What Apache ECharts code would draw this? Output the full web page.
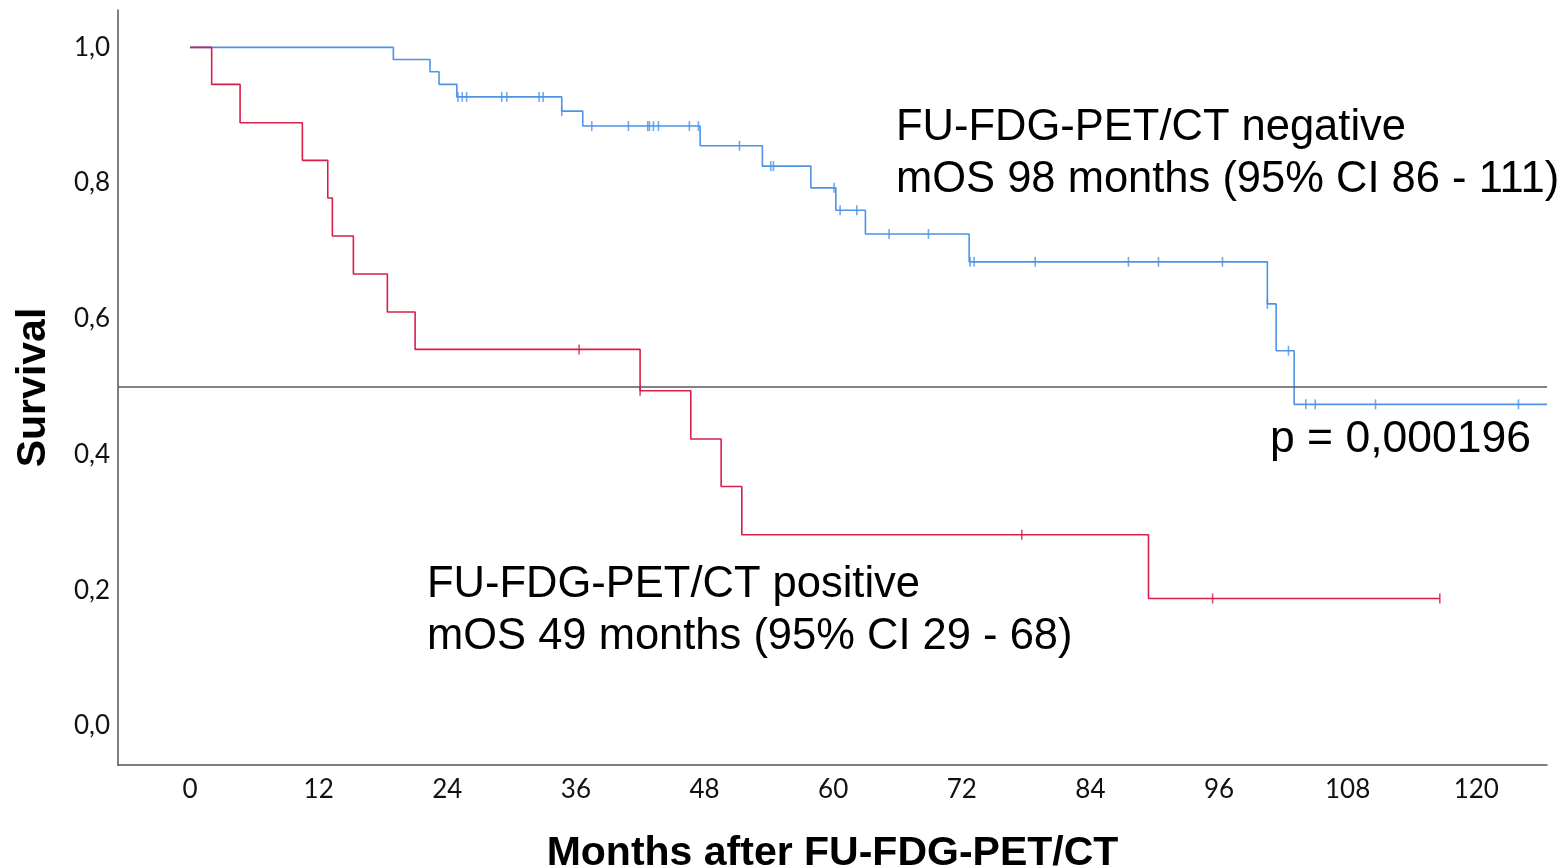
<!DOCTYPE html>
<html>
<head>
<meta charset="utf-8">
<script src="https://cdn.jsdelivr.net/npm/echarts@6/dist/echarts.min.js"></script>
<style>html,body{margin:0;padding:0;background:#fff}#c{width:1567px;height:867px}</style>
</head>
<body>
<div id="c"></div>
<script>
// ---- data ----
const xTicks = [0, 12, 24, 36, 48, 60, 72, 84, 96, 108, 120];
const yTicks = [0, 0.2, 0.4, 0.6, 0.8, 1.0];

// FU-FDG-PET/CT negative (blue): step times and survival after each step
const negTimes = [0, 18.97, 22.39, 23.23, 24.89, 34.68, 36.64, 47.59, 53.40, 57.92, 60.25, 63.01, 72.69, 100.51, 101.33, 103.01, 126.6];
const negSurv  = [1, 0.982, 0.964, 0.9455, 0.927, 0.906, 0.884, 0.855, 0.825, 0.793, 0.760, 0.725, 0.684, 0.622, 0.553, 0.474, 0.474];
const negCensor = [25.0, 25.4, 25.8, 29.08, 29.55, 32.57, 32.94, 34.68, 37.48, 40.9, 42.7, 42.86, 43.23, 43.7, 46.59, 47.43, 51.26, 54.18, 54.43, 60.09, 60.65, 62.21, 65.22, 68.89, 72.78, 73.15, 78.85, 87.55, 90.35, 96.32, 100.51, 102.48, 104.1, 104.98, 110.6, 123.94];

// FU-FDG-PET/CT positive (red)
const posTimes = [0, 2.02, 4.67, 10.48, 12.85, 13.28, 15.24, 18.41, 21.0, 41.99, 46.72, 49.55, 51.48, 89.42, 116.6];
const posSurv  = [1, 0.9455, 0.889, 0.8335, 0.778, 0.722, 0.666, 0.610, 0.555, 0.494, 0.423, 0.353, 0.282, 0.188, 0.188];
const posCensor = [36.3, 41.99, 77.6, 95.4, 116.6];

const medianLine = 0.5;

// ---- helpers ----
function pairs(t, s) { return t.map((v, i) => [v, s[i]]); }
function survAt(t, times, surv) {
  let v = surv[0];
  for (let i = 0; i < times.length; i++) { if (times[i] <= t + 1e-9) v = surv[i]; }
  return v;
}
function censorPts(c, times, surv) { return c.map(t => [t, survAt(t, times, surv)]); }

const BLUE = '#4f93e6';
const RED = '#d81e4a';

const chart = echarts.init(document.getElementById('c'), null, {renderer: 'canvas'});
const annFont = '"Liberation Sans", Arial, sans-serif';
const tickFont = 'Lato, "Open Sans", sans-serif';
chart.setOption({
  animation: false,
  backgroundColor: '#fff',
  grid: {left: 118, right: 20, top: 10, bottom: 102, containLabel: false, outerBoundsMode: 'none'},
  xAxis: {
    type: 'value', min: -6.72, max: 126.6,
    splitLine: {show: false},
    axisTick: {show: false},
    axisLine: {show: true, onZero: false, lineStyle: {color: '#555', width: 1.5}},
    axisLabel: {
      customValues: xTicks, margin: 12,
      fontFamily: tickFont, fontSize: 26, color: '#111',
      formatter: v => String(v)
    },
    name: 'Months after FU-FDG-PET/CT', nameLocation: 'middle', nameGap: 68,
    nameTextStyle: {fontFamily: annFont, fontWeight: 'bold', fontSize: 41, color: '#000'}
  },
  yAxis: {
    type: 'value', min: -0.0573, max: 1.055,
    splitLine: {show: false},
    axisTick: {show: false},
    axisLine: {show: true, onZero: false, lineStyle: {color: '#555', width: 1.5}},
    axisLabel: {
      customValues: yTicks, margin: 8,
      fontFamily: tickFont, fontSize: 26, color: '#111',
      formatter: v => v.toFixed(1).replace('.', ',')
    },
    name: 'Survival', nameLocation: 'middle', nameGap: 64,
    nameTextStyle: {fontFamily: annFont, fontWeight: 'bold', fontSize: 41, color: '#000'}
  },
  series: [
    {
      type: 'line', step: 'end', showSymbol: false, data: pairs(negTimes, negSurv),
      lineStyle: {color: BLUE, width: 1.6}, itemStyle: {color: BLUE}, z: 2,
      markLine: {
        silent: true, symbol: 'none', label: {show: false},
        lineStyle: {color: '#5a5a5a', width: 1.5, type: 'solid'},
        data: [{yAxis: medianLine}]
      }
    },
    {
      type: 'scatter', data: censorPts(negCensor, negTimes, negSurv),
      symbol: 'rect', symbolSize: [1.6, 10], itemStyle: {color: BLUE}, z: 3
    },
    {
      type: 'line', step: 'end', showSymbol: false, data: pairs(posTimes, posSurv),
      lineStyle: {color: RED, width: 1.6}, itemStyle: {color: RED}, z: 4
    },
    {
      type: 'scatter', data: censorPts(posCensor, posTimes, posSurv),
      symbol: 'rect', symbolSize: [1.6, 10], itemStyle: {color: RED}, z: 5
    }
  ],
  graphic: [
    {type: 'text', left: 896, top: 102, style: {text: 'FU-FDG-PET/CT negative\nmOS 98 months (95% CI 86 - 111)', font: '43.5px ' + annFont, fill: '#000', lineHeight: 52}},
    {type: 'text', left: 1270, top: 417, style: {text: 'p = 0,000196', font: '44.5px ' + annFont, fill: '#000'}},
    {type: 'text', left: 427, top: 559, style: {text: 'FU-FDG-PET/CT positive\nmOS 49 months (95% CI 29 - 68)', font: '43.5px ' + annFont, fill: '#000', lineHeight: 52}}
  ]
});
</script>
</body>
</html>
